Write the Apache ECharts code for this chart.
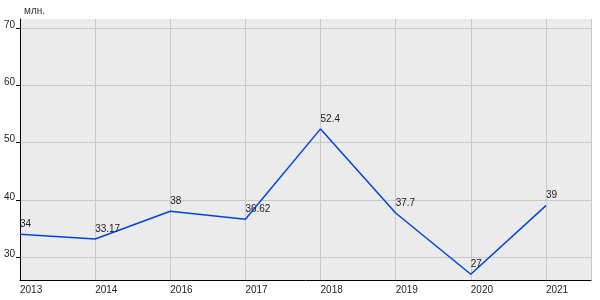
<!DOCTYPE html>
<html><head><meta charset="utf-8">
<script src="https://cdn.jsdelivr.net/npm/echarts@6/dist/echarts.min.js"></script>
<style>html,body{margin:0;padding:0;background:#fff}#c{width:600px;height:300px}</style>
</head><body><div id="c"></div>
<script>
const categories = ['2013','2014','2016','2017','2018','2019','2020','2021'];
const values = [34, 33.17, 38, 36.62, 52.4, 37.7, 27, 39];
const yTicks = [30, 40, 50, 60, 70];
const unitLabel = 'млн.';

const chart = echarts.init(document.getElementById('c'), null, {renderer: 'canvas'});
const font = 'Liberation Sans, Arial, sans-serif';
chart.setOption({
  animation: false,
  title: {text: unitLabel, left: 19, top: 1, textStyle: {fontSize: 10, fontWeight: 'normal', color: '#333', fontFamily: font}},
  grid: {left: 20, right: 9, top: 19, bottom: 20, show: true, backgroundColor: '#ebebeb', borderWidth: 0},
  xAxis: {
    type: 'value', min: 0, max: 7.6, interval: 1,
    axisLine: {show: true, lineStyle: {color: '#000', width: 1}},
    axisTick: {show: false},
    splitLine: {show: true, lineStyle: {color: '#c8c8c8', width: 1}},
    axisLabel: {
      align: 'left', margin: 5, fontSize: 10, color: '#222', fontFamily: font,
      showMaxLabel: false,
      formatter: v => (Number.isInteger(v) && categories[v] !== undefined) ? categories[v] : ''
    }
  },
  yAxis: {
    type: 'value', min: 26, max: 71.6,
    axisLine: {show: true, lineStyle: {color: '#000', width: 1}},
    axisTick: {show: true, length: 4, customValues: yTicks, lineStyle: {color: '#000'}},
    splitLine: {show: true, lineStyle: {color: '#c8c8c8', width: 1}},
    axisLabel: {customValues: yTicks, margin: 5, fontSize: 10, color: '#222', fontFamily: font, verticalAlign: 'bottom', lineHeight: 6}
  },
  series: [{
    type: 'line',
    data: values.map((v, i) => [i, v]),
    symbol: 'circle', symbolSize: 0, showSymbol: true,
    itemStyle: {color: '#0044dd'},
    lineStyle: {color: '#0044dd', width: 1.5},
    label: {show: true, position: 'top', align: 'left', distance: 5, fontSize: 10, color: '#222', fontFamily: font,
      formatter: p => String(values[p.dataIndex])}
  }]
});
</script></body></html>
